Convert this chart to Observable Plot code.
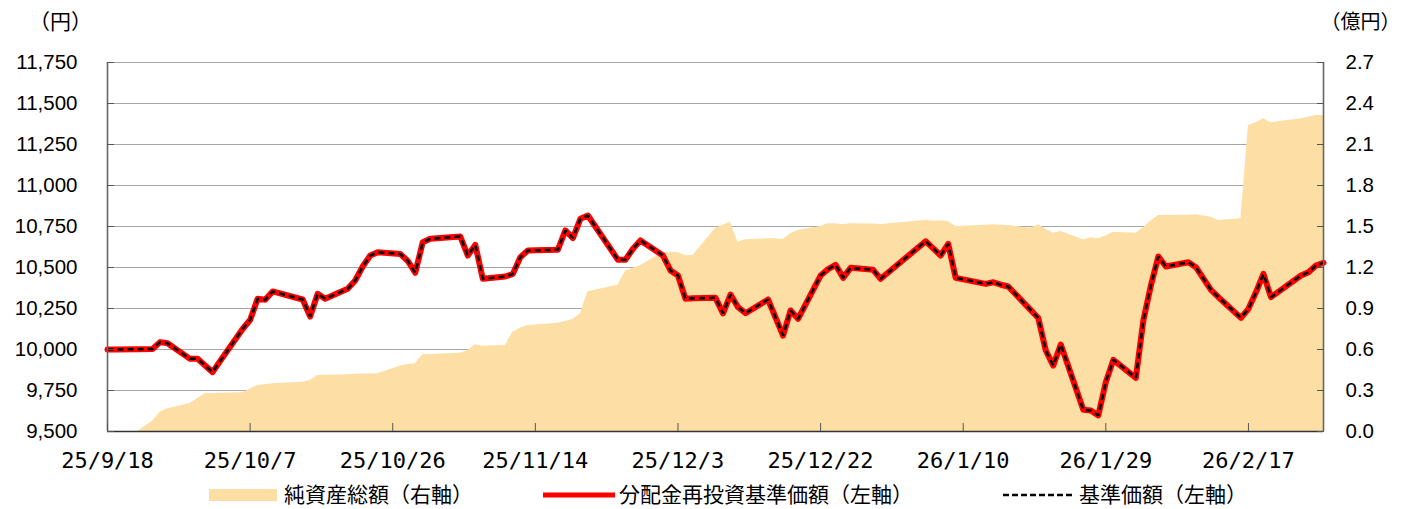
<!DOCTYPE html>
<html><head><meta charset="utf-8">
<script src="https://cdn.jsdelivr.net/npm/d3@7"></script>
<script src="https://cdn.jsdelivr.net/npm/@observablehq/plot@0.6"></script>
<style>
html,body{margin:0;padding:0;background:#fff;overflow:hidden;}
#chart{width:1401px;}
#chart svg{display:block;}
</style></head><body><div id="chart"></div>
<script>
// ---- data ----
const dates = [
"2025-09-18","2025-09-19","2025-09-22","2025-09-24","2025-09-25","2025-09-26","2025-09-29","2025-09-30",
"2025-10-01","2025-10-02","2025-10-03","2025-10-06","2025-10-07","2025-10-08","2025-10-09","2025-10-10",
"2025-10-14","2025-10-15","2025-10-16","2025-10-17","2025-10-20","2025-10-21","2025-10-22","2025-10-23","2025-10-24",
"2025-10-27","2025-10-28","2025-10-29","2025-10-30","2025-10-31",
"2025-11-04","2025-11-05","2025-11-06","2025-11-07","2025-11-10","2025-11-11","2025-11-12","2025-11-13","2025-11-14",
"2025-11-17","2025-11-18","2025-11-19","2025-11-20","2025-11-21","2025-11-25","2025-11-26","2025-11-27","2025-11-28",
"2025-12-01","2025-12-02","2025-12-03","2025-12-04","2025-12-05","2025-12-08","2025-12-09","2025-12-10","2025-12-11","2025-12-12",
"2025-12-15","2025-12-16","2025-12-17","2025-12-18","2025-12-19","2025-12-22","2025-12-23","2025-12-24","2025-12-25","2025-12-26",
"2025-12-29","2025-12-30",
"2026-01-05","2026-01-06","2026-01-07","2026-01-08","2026-01-09","2026-01-13","2026-01-14","2026-01-15","2026-01-16",
"2026-01-19","2026-01-20","2026-01-21","2026-01-22","2026-01-23","2026-01-26","2026-01-27","2026-01-28","2026-01-29","2026-01-30",
"2026-02-02","2026-02-03","2026-02-04","2026-02-05","2026-02-06","2026-02-09","2026-02-10","2026-02-12","2026-02-13",
"2026-02-16","2026-02-17","2026-02-18","2026-02-19","2026-02-20","2026-02-24","2026-02-25","2026-02-26","2026-02-27"
];
// 分配金再投資基準価額 (円)
const navReinvested = [
10000,10000,10002,10003,10045,10038,9943,9943,
9902,9862,9929,10125,10180,10309,10303,10354,
10305,10201,10340,10309,10370,10421,10506,10573,10593,
10583,10540,10468,10654,10675,
10689,10573,10638,10431,10445,10461,10563,10604,10605,
10608,10726,10679,10797,10817,10547,10547,10614,10665,
10573,10482,10451,10309,10312,10315,10220,10335,10258,10221,
10305,10195,10085,10238,10187,10451,10490,10516,10437,10498,
10486,10431,
10660,10617,10573,10644,10437,10400,10410,10395,10384,
10240,10192,9994,9902,10030,9632,9628,9598,9801,9937,
9827,10177,10390,10567,10506,10532,10502,10364,10319,
10193,10248,10349,10461,10319,10451,10471,10512,10529
];
// 基準価額 (円) — no distributions, identical to the reinvested series
const navBase = navReinvested.slice();
// 純資産総額 (億円)
const netAssets = [
0,0,0,0.075,0.141,0.166,0.205,0.239,
0.276,0.278,0.280,0.283,0.310,0.337,0.342,0.349,
0.360,0.373,0.410,0.412,0.415,0.418,0.420,0.421,0.422,
0.478,0.490,0.495,0.561,0.563,
0.573,0.593,0.634,0.624,0.629,0.727,0.755,0.776,0.780,
0.792,0.805,0.820,0.861,1.022,1.070,1.172,1.195,1.212,
1.310,1.310,1.310,1.288,1.288,1.485,1.510,1.532,1.385,1.403,
1.410,1.410,1.405,1.447,1.470,1.500,1.520,1.520,1.512,1.520,
1.518,1.515,
1.544,1.540,1.540,1.537,1.500,1.510,1.512,1.510,1.507,
1.488,1.512,1.480,1.451,1.463,1.403,1.417,1.410,1.430,1.458,
1.451,1.490,1.540,1.580,1.580,1.583,1.586,1.568,1.544,
1.556,2.239,2.260,2.288,2.259,2.288,2.300,2.312,2.312
];
const xDomain = ["2025-09-18","2026-02-27"];
const xTickDates = ["2025-09-18","2025-10-07","2025-10-26","2025-11-14","2025-12-03","2025-12-22","2026-01-10","2026-01-29","2026-02-17"];
const xTickLabels = ["25/9/18","25/10/7","25/10/26","25/11/14","25/12/3","25/12/22","26/1/10","26/1/29","26/2/17"];
const leftTicks = [9500,9750,10000,10250,10500,10750,11000,11250,11500,11750];
const rightTicks = [0,0.3,0.6,0.9,1.2,1.5,1.8,2.1,2.4,2.7];
const leftDomain = [9500,11750];
const rightDomain = [0,2.7];
const leftUnit = "（円）";
const rightUnit = "（億円）";
const legendLabels = ["純資産総額（右軸）","分配金再投資基準価額（左軸）","基準価額（左軸）"];
const colors = {area:"#FDDEA5", nav:"#FF0000", base:"#000000", grid:"#A6A6A6"};

// ---- build ----
const toLeft = v => leftDomain[0] + (v - rightDomain[0]) * (leftDomain[1]-leftDomain[0]) / (rightDomain[1]-rightDomain[0]);
const fromLeft = v => rightDomain[0] + (v - leftDomain[0]) * (rightDomain[1]-rightDomain[0]) / (leftDomain[1]-leftDomain[0]);
const rows = dates.map((d,i) => ({date:new Date(d), nav:navReinvested[i], base:navBase[i], assetsL:toLeft(netAssets[i])}));
const xLabelMap = new Map(xTickDates.map((d,i) => [+new Date(d), xTickLabels[i]]));
const x0 = new Date(xDomain[0]), x1 = new Date(xDomain[1]);
const jp = "'Noto Sans CJK JP','Noto Sans',sans-serif";

const chart = Plot.plot({
  width:1401, height:476,
  marginLeft:107, marginRight:78, marginTop:62, marginBottom:45,
  x:{type:"utc", domain:[x0, x1], label:null},
  y:{domain:leftDomain, label:null},
  style:{fontFamily:"'Liberation Sans',Arial,sans-serif", fontSize:"20px", color:"#000", background:"#fff"},
  marks:[
    Plot.gridY(leftTicks.slice(1), {stroke:colors.grid, strokeOpacity:1, strokeWidth:1.2}),
    Plot.areaY(rows, {x:"date", y1:leftDomain[0], y2:"assetsL", fill:colors.area}),
    Plot.lineY(rows, {x:"date", y:"nav", stroke:colors.nav, strokeWidth:6, strokeLinejoin:"round", strokeLinecap:"round"}),
    Plot.lineY(rows, {x:"date", y:"base", stroke:colors.base, strokeWidth:2.5, strokeDasharray:"6,4", strokeLinecap:"butt", strokeLinejoin:"miter"}),
    Plot.ruleY([leftDomain[0]], {stroke:"#333", strokeWidth:1.6}),
    Plot.ruleX([x0], {stroke:"#666", strokeWidth:1.6}),
    Plot.ruleX([x1], {stroke:"#666", strokeWidth:1.6}),
    Plot.axisY(leftTicks, {anchor:"left", tickSize:-7, tickPadding:37, tickFormat:d3.format(","), fontSize:20.5, stroke:"#555", label:null}),
    Plot.axisY(rightTicks.map(toLeft), {anchor:"right", tickSize:-7, tickPadding:29, tickFormat:d => fromLeft(d).toFixed(1), fontSize:20.5, stroke:"#555", label:null}),
    Plot.axisX(xTickDates.map(d => new Date(d)), {anchor:"bottom", tickSize:-8, tickPadding:29, tickFormat:d => xLabelMap.get(+d), fontFamily:"'DejaVu Sans Mono',monospace", fontSize:22, stroke:"#555", label:null}),
    Plot.text([leftUnit], {frameAnchor:"top-left", text:d => d, dx:-47, dy:-40, textAnchor:"middle", lineAnchor:"middle", fontFamily:jp, fontSize:21}),
    Plot.text([rightUnit], {frameAnchor:"top-right", text:d => d, dx:77, dy:-40, textAnchor:"end", lineAnchor:"middle", fontFamily:jp, fontSize:20})
  ]
});
document.getElementById("chart").appendChild(chart);

// legend below the plot
const lg = d3.select("#chart").append("svg").attr("width",1401).attr("height",33)
  .style("font-family", jp).style("font-size","21px");
const cy = 19;
lg.append("rect").attr("x",209).attr("y",cy-6).attr("width",68).attr("height",12).attr("fill",colors.area);
lg.append("text").attr("x",284).attr("y",cy).attr("dy","0.35em").text(legendLabels[0]);
lg.append("line").attr("x1",543).attr("x2",615).attr("y1",cy).attr("y2",cy).attr("stroke",colors.nav).attr("stroke-width",5);
lg.append("text").attr("x",619).attr("y",cy).attr("dy","0.35em").text(legendLabels[1]);
lg.append("line").attr("x1",1003).attr("x2",1075).attr("y1",cy).attr("y2",cy).attr("stroke",colors.base).attr("stroke-width",2.5).attr("stroke-dasharray","6,3");
lg.append("text").attr("x",1079).attr("y",cy).attr("dy","0.35em").text(legendLabels[2]);
</script></body></html>
